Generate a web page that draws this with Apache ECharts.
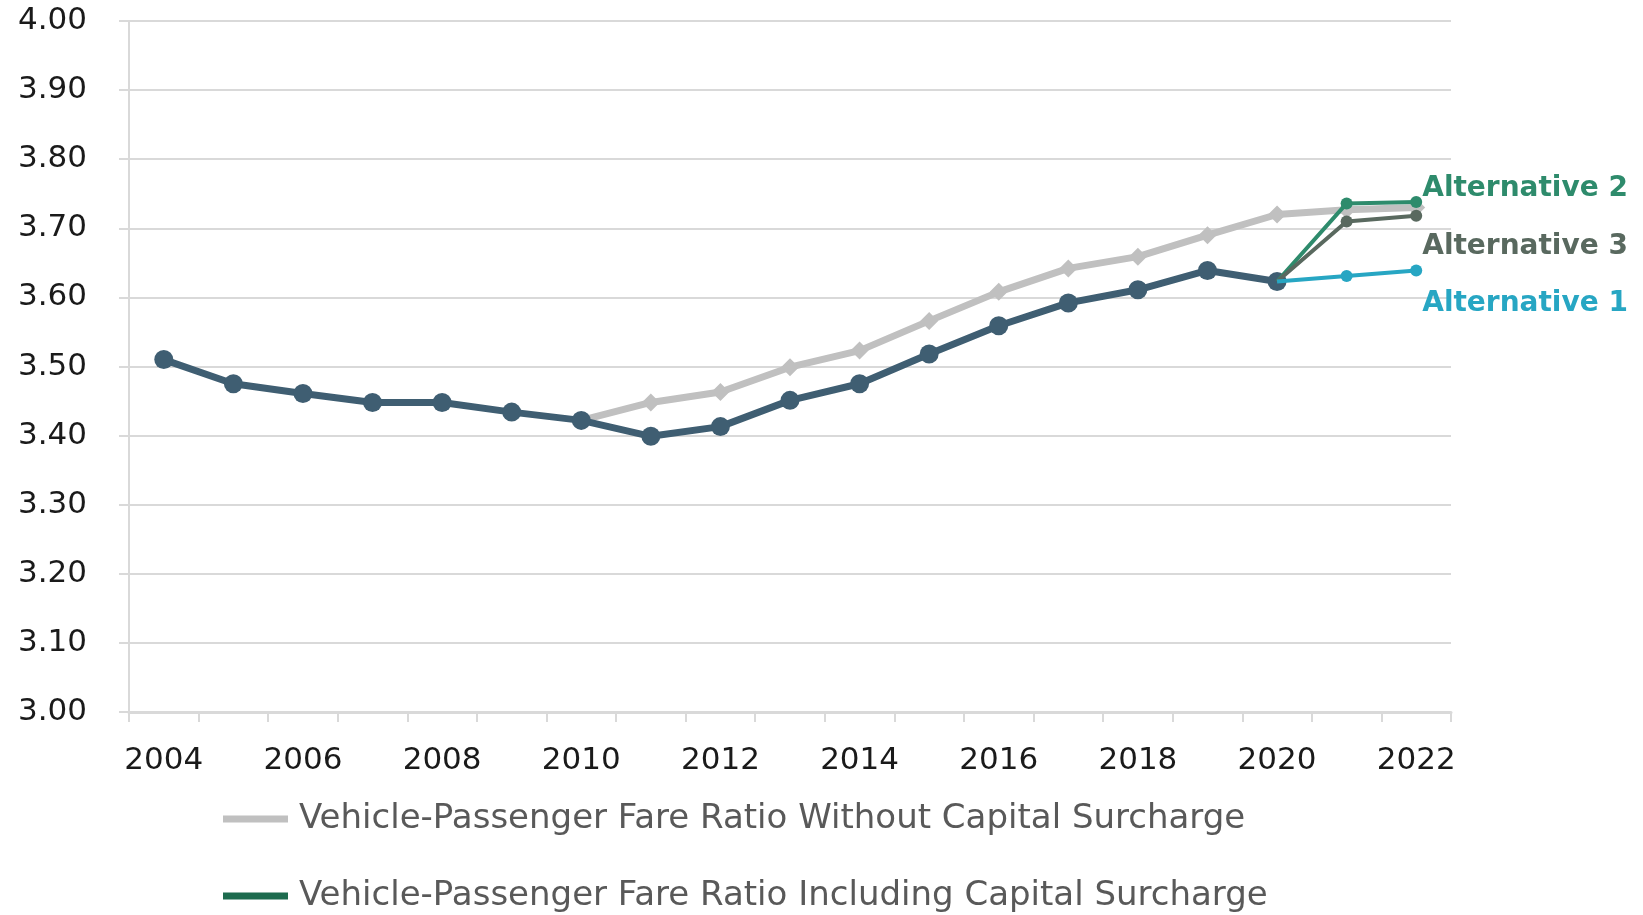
<!DOCTYPE html>
<html>
<head>
<meta charset="utf-8">
<script src="https://cdn.jsdelivr.net/npm/echarts@6/dist/echarts.min.js"></script>
<style>
  html, body { margin: 0; padding: 0; background: #fff; }
  #chart { width: 1643px; height: 915px; }
</style>
</head>
<body>
<div id="chart"></div>
<script>
var years = ['2004','2005','2006','2007','2008','2009','2010','2011','2012','2013',
             '2014','2015','2016','2017','2018','2019','2020','2021','2022'];
var withoutSurcharge = [null,null,null,null,null,null,3.422,3.448,3.463,3.499,
                        3.523,3.566,3.608,3.642,3.659,3.690,3.720,3.727,3.730];
var includingSurcharge = [3.510,3.475,3.461,3.448,3.448,3.434,3.422,3.399,3.413,3.451,
                          3.475,3.518,3.559,3.592,3.611,3.639,3.623,null,null];
var alt2 = [null,null,null,null,null,null,null,null,null,null,
            null,null,null,null,null,null,3.623,3.736,3.738];
var alt3 = [null,null,null,null,null,null,null,null,null,null,
            null,null,null,null,null,null,3.623,3.710,3.718];
var alt1 = [null,null,null,null,null,null,null,null,null,null,
            null,null,null,null,null,null,3.623,3.631,3.639];

var nameWithout = 'Vehicle-Passenger Fare Ratio Without Capital Surcharge';
var nameWith = 'Vehicle-Passenger Fare Ratio Including Capital Surcharge';

// hide the marker where an alternative branches off the main line
function branch(arr) {
  var first = arr.findIndex(function (v) { return v !== null; });
  return arr.map(function (v, i) {
    return i === first ? { value: v, symbol: 'none' } : v;
  });
}

function altSeries(name, data, color, offsetY) {
  return {
    name: name,
    type: 'line',
    data: branch(data),
    symbol: 'circle',
    symbolSize: 12,
    lineStyle: { color: color, width: 4 },
    itemStyle: { color: color },
    z: 5,
    endLabel: {
      show: true,
      formatter: name,
      color: color,
      fontFamily: 'DejaVu Sans',
      fontWeight: 'bold',
      fontSize: 28,
      distance: 6,
      offset: [0, offsetY]
    }
  };
}

function legendItem(name, color, top) {
  return {
    left: 218,
    top: top,
    itemWidth: 65,
    itemHeight: 7,
    icon: 'rect',
    selectedMode: false,
    textStyle: { color: '#595959', fontFamily: 'DejaVu Sans', fontSize: 34, padding: [0, 0, 0, 6] },
    data: [{ name: name, itemStyle: { color: color } }]
  };
}

var myChart = echarts.init(document.getElementById('chart'));

var option = {
  animation: false,
  grid: { left: 129, right: 192, top: 21, bottom: 203 },
  legend: [
    legendItem(nameWithout, '#c0c0c0', 797),
    legendItem(nameWith, '#1d6b4e', 874)
  ],
  xAxis: {
    type: 'category',
    data: years,
    boundaryGap: true,
    axisLine: { lineStyle: { color: '#d9d9d9', width: 3 } },
    axisTick: { show: true, interval: 0, length: 10, lineStyle: { color: '#d9d9d9', width: 2 } },
    axisLabel: {
      interval: 1,
      margin: 33,
      color: '#1a1a1a',
      fontFamily: 'DejaVu Sans',
      fontSize: 31
    }
  },
  yAxis: {
    type: 'value',
    min: 3.0,
    max: 4.0,
    interval: 0.1,
    axisLine: { show: true, lineStyle: { color: '#d9d9d9', width: 2 } },
    axisTick: { show: true, length: 10, lineStyle: { color: '#d9d9d9', width: 2 } },
    splitLine: { lineStyle: { color: '#d9d9d9', width: 2 } },
    axisLabel: {
      margin: 42,
      color: '#1a1a1a',
      fontFamily: 'DejaVu Sans',
      fontSize: 31,
      formatter: function (v) { return v.toFixed(2); }
    }
  },
  series: [
    {
      name: nameWithout,
      type: 'line',
      data: withoutSurcharge,
      symbol: 'diamond',
      symbolSize: 18,
      lineStyle: { color: '#c0c0c0', width: 7 },
      itemStyle: { color: '#c0c0c0' },
      z: 2
    },
    {
      name: nameWith,
      type: 'line',
      data: includingSurcharge,
      symbol: 'circle',
      symbolSize: 19,
      lineStyle: { color: '#3f5e72', width: 7 },
      itemStyle: { color: '#3f5e72' },
      z: 3
    },
    altSeries('Alternative 2', alt2, '#2e8b6c', -13),
    altSeries('Alternative 3', alt3, '#59695f', 31),
    altSeries('Alternative 1', alt1, '#27a6c3', 33)
  ]
};
myChart.setOption(option);
</script>
</body>
</html>
